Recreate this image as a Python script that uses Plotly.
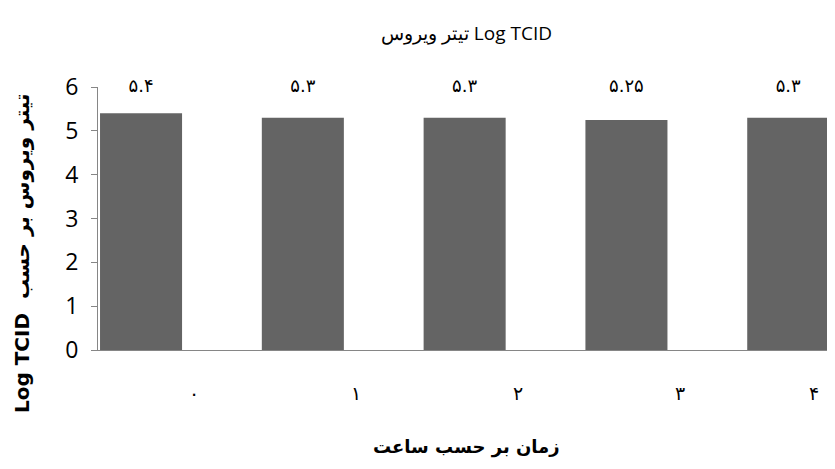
import plotly.graph_objects as go

hours = [0, 1, 2, 3, 4]
hour_labels = ["۰", "۱", "۲", "۳", "۴"]
titer = [5.4, 5.3, 5.3, 5.25, 5.3]
titer_labels = ["۵.۴", "۵.۳", "۵.۳", "۵.۲۵", "۵.۳"]
y_ticks = [0, 1, 2, 3, 4, 5, 6]

fig = go.Figure()
fig.add_trace(go.Bar(x=hours, y=titer, width=0.507, marker_color="#646464",
                     marker_line_width=0, showlegend=False, hoverinfo="skip"))
# data labels at the top band
fig.add_trace(go.Scatter(x=hours, y=[max(y_ticks)] * len(hours), mode="text",
                         text=titer_labels, textposition="middle center",
                         textfont=dict(family="DejaVu Sans", size=18, color="black"),
                         cliponaxis=False, showlegend=False, hoverinfo="skip"))

x_lo, x_hi = -0.266, 4.289
anns = []
for h, lab in zip(hours, hour_labels):
    anns.append(dict(x=min(h + 0.33, 4.16), y=-0.163, xref="x", yref="paper",
                     text=lab, showarrow=False, xanchor="center", yanchor="middle",
                     font=dict(family="DejaVu Sans", size=19, color="black")))
anns.append(dict(x=0.5, y=-0.369, xref="paper", yref="paper",
                 xanchor="center", yanchor="middle",
                 text="<b>زمان بر حسب ساعت</b>", showarrow=False,
                 font=dict(family="DejaVu Sans", size=18, color="black")))
anns.append(dict(x=-0.103, y=0.369, xref="paper", yref="paper", textangle=-90,
                 xanchor="center", yanchor="middle",
                 text="<b>Log TCID  تیتر ویروس بر حسب</b>", showarrow=False,
                 font=dict(family="DejaVu Sans", size=20, color="black")))

fig.update_layout(
    width=835, height=469,
    margin=dict(l=90, r=8, t=79, b=127),
    paper_bgcolor="white", plot_bgcolor="white",
    title=dict(text="تیتر ویروس Log TCID", x=0.5, xref="paper", y=0.947, yref="container",
               xanchor="center", yanchor="middle",
               font=dict(family="Open Sans", size=19, color="black")),
    xaxis=dict(range=[x_lo, x_hi], showticklabels=False, ticks="", showgrid=False,
               zeroline=False, showline=True, linecolor="#868686", linewidth=1),
    yaxis=dict(range=[0, 6], tickvals=y_ticks, ticks="outside", ticklen=6,
               tickcolor="#868686", showgrid=False, zeroline=False, showline=True,
               linecolor="#868686", linewidth=1, ticklabelstandoff=8,
               tickfont=dict(family="Open Sans", size=23, color="black")),
    annotations=anns,
)

fig.write_html("out.html")
